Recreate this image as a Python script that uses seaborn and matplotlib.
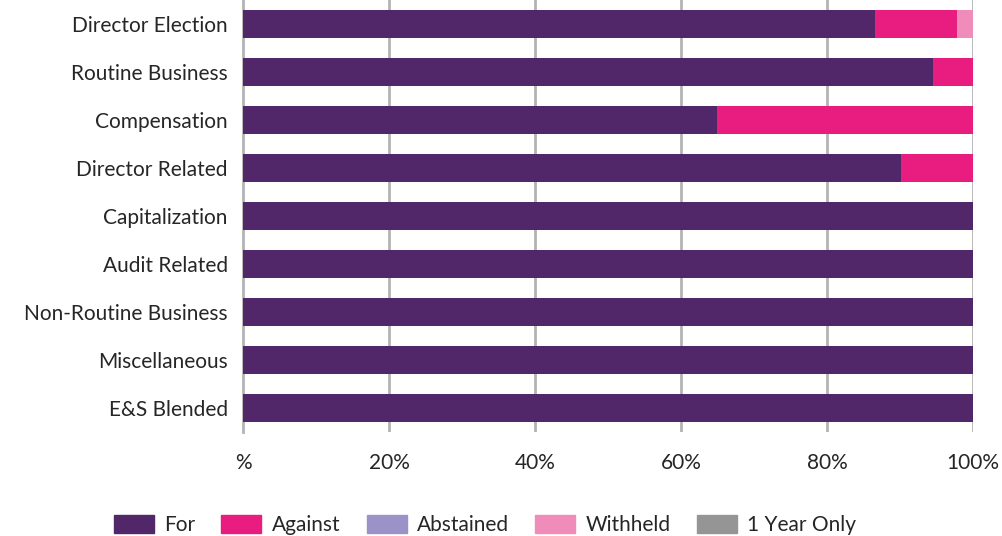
import matplotlib
matplotlib.use("Agg")
import matplotlib.pyplot as plt
import matplotlib.patches as mpatches
import seaborn as sns
import pandas as pd

categories = ["Director Election", "Routine Business", "Compensation",
              "Director Related", "Capitalization", "Audit Related",
              "Non-Routine Business", "Miscellaneous", "E&S Blended"]
vote_for = [86.6, 94.5, 64.9, 90.1, 100, 100, 100, 100, 100]
vote_against = [11.2, 5.5, 35.1, 9.9, 0, 0, 0, 0, 0]
vote_abstained = [0, 0, 0, 0, 0, 0, 0, 0, 0]
vote_withheld = [2.2, 0, 0, 0, 0, 0, 0, 0, 0]
vote_one_year = [0, 0, 0, 0, 0, 0, 0, 0, 0]

series_names = ["For", "Against", "Abstained", "Withheld", "1 Year Only"]
series_colors = ["#52276A", "#E91C7F", "#9B93C8", "#F08CB9", "#959595"]
tick_values = [0, 20, 40, 60, 80, 100]
tick_labels = ["%", "20%", "40%", "60%", "80%", "100%"]

sns.set_theme(style="white")
plt.rcParams["font.family"] = ["Lato", "DejaVu Sans"]

df = pd.DataFrame({"Category": categories, "For": vote_for, "Against": vote_against,
                   "Abstained": vote_abstained, "Withheld": vote_withheld,
                   "1 Year Only": vote_one_year})
cum = df[series_names].cumsum(axis=1)

fig = plt.figure(figsize=(10.02, 5.36), dpi=100)
ax = fig.add_axes([0.2425, 0.194, 0.7285, 0.806])

# stacked bars: draw cumulative totals from the last segment back to the first
for name, color in reversed(list(zip(series_names, series_colors))):
    sns.barplot(x=cum[name], y=df["Category"], orient="h", color=color,
                width=0.6, saturation=1, linewidth=0, ax=ax, zorder=3)

ax.set_xlim(0, 100)
ax.set_ylim(8.5, -0.5)
ax.set_xticks(tick_values)
ax.set_xticklabels(tick_labels)
ax.set_xlabel("")
ax.set_ylabel("")
for v in tick_values[1:]:
    ax.axvline(v, color="#B3B3B3", lw=2, zorder=1)
for s in ["top", "right", "bottom"]:
    ax.spines[s].set_visible(False)
ax.spines["left"].set_color("#B3B3B3")
ax.spines["left"].set_linewidth(2)
ax.tick_params(axis="x", length=0, pad=15, labelsize=15, labelcolor="#262626")
ax.tick_params(axis="y", length=0, pad=11, labelsize=15, labelcolor="#262626")

handles = [mpatches.Patch(color=c, label=n) for n, c in zip(series_names, series_colors)]
fig.legend(handles=handles, loc="center", ncol=5, frameon=False,
           bbox_to_anchor=(0.484, 1 - 525 / 536), fontsize=15,
           handlelength=1.92, handleheight=1.0, handletextpad=0.5,
           columnspacing=1.25, labelcolor="#262626", borderpad=0)

fig.savefig("out.png", dpi=100)
